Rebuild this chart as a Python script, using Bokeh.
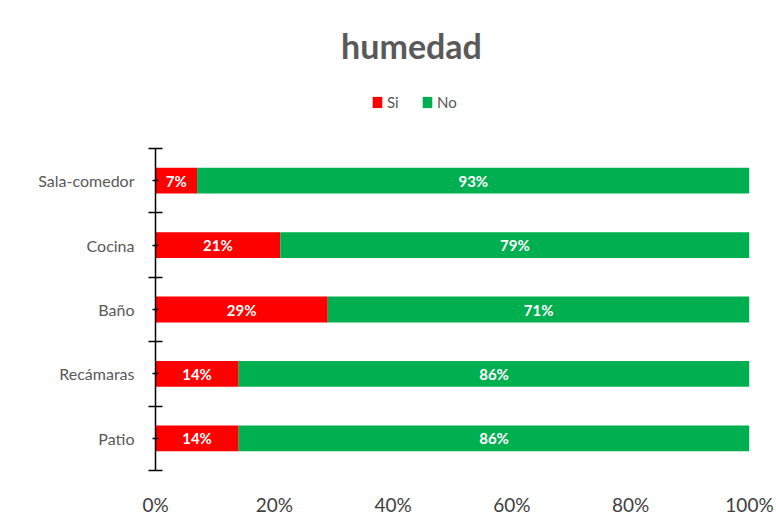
from bokeh.plotting import figure
from bokeh.models import (ColumnDataSource, FixedTicker, PrintfTickFormatter, Label,
                          Legend, LegendItem, LabelSet)
from bokeh.core.properties import value
from bokeh.embed import file_html
from bokeh.resources import INLINE

# ---- data (top to bottom as shown) ----
categories = ["Sala-comedor", "Cocina", "Baño", "Recámaras", "Patio"]
si_pct = [7, 21, 29, 14, 14]
no_pct = [93, 79, 71, 86, 86]
series_names = ["Si", "No"]
series_colors = ["#FF0000", "#00B050"]
x_ticks = [0, 20, 40, 60, 80, 100]
title_text = "humedad"

n = len(categories)
ypos = [n - 1 - i + 0.5 for i in range(n)]

src = ColumnDataSource(dict(
    cat=categories, y=ypos, Si=si_pct, No=no_pct,
    si_mid=[s / 2 for s in si_pct],
    no_mid=[s + o / 2 for s, o in zip(si_pct, no_pct)],
    si_lab=[f"{v}%" for v in si_pct],
    no_lab=[f"{v}%" for v in no_pct],
))

FONT = "Lato"
W, H = 776, 524
FRAME_BOTTOM = 470          # px from top of page
PLOT_TOP = 148              # px where category area starts
y_end = n * FRAME_BOTTOM / (FRAME_BOTTOM - PLOT_TOP)   # extra room above bars for title/legend

p = figure(width=W, height=H, output_backend="svg", toolbar_location=None,
           x_range=(0, 100), y_range=(0, y_end),
           min_border_left=155, min_border_right=27,
           min_border_top=0, min_border_bottom=H - FRAME_BOTTOM)
p.outline_line_color = None
p.xgrid.visible = False
p.ygrid.visible = False
p.background_fill_color = "white"
p.border_fill_color = "white"

rs = p.hbar_stack(series_names, y="y", height=0.4, color=series_colors,
                  line_color=None, source=src)

# data labels
for xcol, tcol in (("si_mid", "si_lab"), ("no_mid", "no_lab")):
    p.add_layout(LabelSet(x=xcol, y="y", text=tcol, source=src,
                          text_align="center", text_baseline="middle",
                          text_color="white", text_font=value(FONT),
                          text_font_size="15px", text_font_style="bold"))

# x axis
xa = p.xaxis[0]
xa.ticker = FixedTicker(ticks=x_ticks)
xa.formatter = PrintfTickFormatter(format="%d%%")
xa.axis_line_color = None
xa.major_tick_line_color = None
xa.minor_tick_line_color = None
xa.major_label_text_font = FONT
xa.major_label_text_font_size = "19px"
xa.major_label_text_color = "#404040"
xa.major_label_standoff = 16

# y axis
ya = p.yaxis[0]
ya.bounds = (0, n)
ya.ticker = FixedTicker(ticks=ypos, minor_ticks=list(range(n + 1)))
ya.major_label_overrides = {y: c for y, c in zip(ypos, categories)}
ya.axis_line_color = "black"
ya.axis_line_width = 1.5
ya.major_tick_line_color = "black"
ya.major_tick_line_width = 1.5
ya.major_tick_in = 3
ya.major_tick_out = 3
ya.minor_tick_line_color = "black"
ya.minor_tick_line_width = 1.5
ya.minor_tick_in = 7
ya.minor_tick_out = 7
ya.major_label_text_font = FONT
ya.major_label_text_font_size = "16px"
ya.major_label_text_color = "#595959"
ya.major_label_standoff = 14

# title
p.add_layout(Label(x=256, y=FRAME_BOTTOM - 45, x_units="screen", y_units="screen",
                   text=title_text, text_align="center", text_baseline="middle",
                   text_font=FONT, text_font_size="34px", text_font_style="bold",
                   text_color="#595959"))

# legend
legend = Legend(items=[LegendItem(label=nm, renderers=[r]) for nm, r in zip(series_names, rs)],
                orientation="horizontal", location=(216, FRAME_BOTTOM - 111),
                glyph_width=12, glyph_height=14, label_standoff=4, spacing=14,
                padding=0, margin=0, border_line_color=None, background_fill_alpha=0,
                label_text_font=FONT, label_text_font_size="15px",
                label_text_color="#595959", label_height=14)
p.add_layout(legend, "center")

open("out.html", "w").write(file_html(p, INLINE))
